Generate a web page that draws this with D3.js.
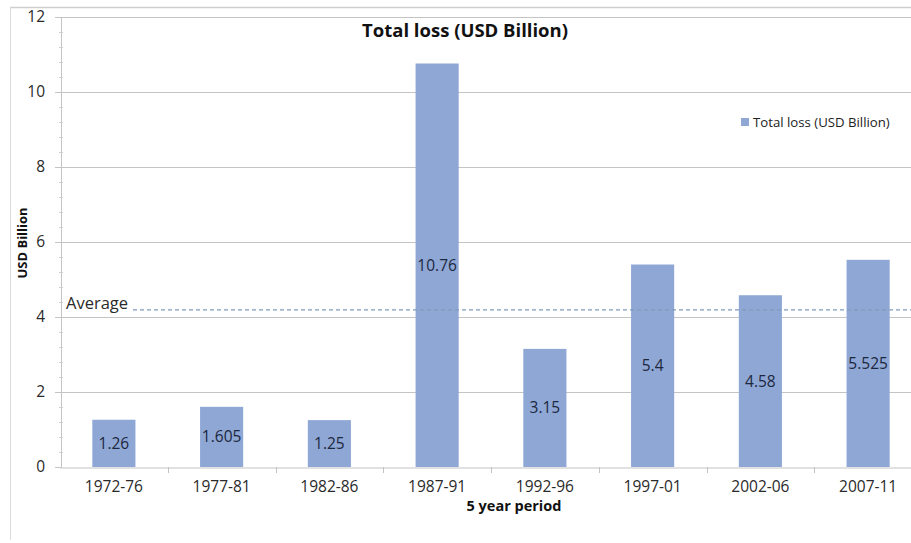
<!DOCTYPE html>
<html>
<head>
<meta charset="utf-8">
<script src="https://cdn.jsdelivr.net/npm/d3@7"></script>
<style>
  body { margin: 0; background: #fff; }
  svg text { font-family: "Open Sans", "DejaVu Sans", sans-serif; }
</style>
</head>
<body>
<svg id="chart" width="911" height="543"></svg>
<script>
// ---- data
var periods = ["1972-76", "1977-81", "1982-86", "1987-91", "1992-96", "1997-01", "2002-06", "2007-11"];
var totalLoss = [1.26, 1.605, 1.25, 10.76, 3.15, 5.4, 4.58, 5.525];
var yTicks = [0, 2, 4, 6, 8, 10, 12];
var averageLoss = 4.19;
var seriesName = "Total loss (USD Billion)";

var barColor = "#8fa7d4";
var gridColor = "#c4c4c4";

var svg = d3.select("#chart");

// outer frame (top and left edge of the original chart box)
svg.append("line").attr("x1", 10).attr("x2", 911).attr("y1", 7.5).attr("y2", 7.5)
  .attr("stroke", "#cfcfcf").attr("stroke-width", 1.5);
svg.append("line").attr("x1", 10.5).attr("x2", 10.5).attr("y1", 7).attr("y2", 540)
  .attr("stroke", "#dcdcdc").attr("stroke-width", 1);

var x = d3.scaleBand().domain(periods).range([60, 922]).paddingInner(0).paddingOuter(0);
var y = d3.scaleLinear().domain([0, 12]).range([467, 17]);

// gridlines
svg.append("g").selectAll("line").data(yTicks.filter(function(d) { return d > 0; }))
  .enter().append("line")
  .attr("x1", 61).attr("x2", 911)
  .attr("y1", function(d) { return Math.round(y(d)) + 0.5; })
  .attr("y2", function(d) { return Math.round(y(d)) + 0.5; })
  .attr("stroke", gridColor).attr("stroke-width", 1.2);

// y axis
var yAxis = d3.axisLeft(y).tickValues(yTicks).tickSize(6).tickPadding(10);
var gy = svg.append("g").attr("transform", "translate(61,0)").call(yAxis);
gy.select(".domain").attr("stroke", gridColor);
gy.selectAll(".tick line").attr("stroke", gridColor);
gy.selectAll(".tick text").attr("font-size", 15.5).attr("fill", "#2a2a2a");

// minor ticks
var minor = d3.range(0, 12.01, 0.4).filter(function(d) { return Math.abs(d / 2 - Math.round(d / 2)) > 0.01; });
svg.append("g").selectAll("line").data(minor).enter().append("line")
  .attr("x1", 59).attr("x2", 63)
  .attr("y1", function(d) { return Math.round(y(d)) + 0.5; })
  .attr("y2", function(d) { return Math.round(y(d)) + 0.5; })
  .attr("stroke", "#d0d0d0");

// x axis
var xAxis = d3.axisBottom(x).tickSize(0).tickPadding(13);
var gx = svg.append("g").attr("transform", "translate(0,467.5)").call(xAxis);
gx.select(".domain").attr("stroke", gridColor).attr("stroke-width", 1.2);
gx.selectAll(".tick text").attr("font-size", 15.5).attr("fill", "#2a2a2a");
svg.append("g").selectAll("line").data(periods.slice(1)).enter().append("line")
  .attr("x1", function(d) { return Math.round(x(d)) + 0.5; })
  .attr("x2", function(d) { return Math.round(x(d)) + 0.5; })
  .attr("y1", 467).attr("y2", 473)
  .attr("stroke", gridColor);

// bars
var barW = x.bandwidth() * 0.4;
svg.append("g").selectAll("rect").data(totalLoss).enter().append("rect")
  .attr("x", function(d, i) { return x(periods[i]) + (x.bandwidth() - barW) / 2; })
  .attr("y", function(d) { return y(d); })
  .attr("width", barW)
  .attr("height", function(d) { return y(0) - y(d); })
  .attr("fill", barColor);

// value labels, centred in bars
svg.append("g").selectAll("text").data(totalLoss).enter().append("text")
  .attr("x", function(d, i) { return x(periods[i]) + x.bandwidth() / 2; })
  .attr("y", function(d) { return (y(d) + y(0)) / 2; })
  .attr("dy", "0.35em")
  .attr("text-anchor", "middle")
  .attr("font-size", 15.5)
  .attr("fill", "#1c2740")
  .text(function(d) { return d; });

// average line
svg.append("line")
  .attr("x1", 133).attr("x2", 911)
  .attr("y1", y(averageLoss)).attr("y2", y(averageLoss))
  .attr("stroke", "#7f9cbc").attr("stroke-width", 1.3)
  .attr("stroke-dasharray", "4,3");
svg.append("text").attr("x", 66).attr("y", y(averageLoss) - 0.5)
  .attr("font-size", 16.5).attr("fill", "#2a2a2a").text("Average");

// titles
svg.append("text").attr("x", 465).attr("y", 36.5)
  .attr("text-anchor", "middle").attr("font-size", 18.5).attr("font-weight", "bold")
  .attr("fill", "#111").text(seriesName);

svg.append("text").attr("x", 514).attr("y", 511)
  .attr("text-anchor", "middle").attr("font-size", 14.5).attr("font-weight", "bold")
  .attr("fill", "#111").text("5 year period");

svg.append("text")
  .attr("transform", "translate(27,243) rotate(-90)")
  .attr("text-anchor", "middle").attr("font-size", 13).attr("font-weight", "bold")
  .attr("fill", "#111").text("USD Billion");

// legend
var legend = svg.append("g").attr("transform", "translate(741,118)");
legend.append("rect").attr("width", 8).attr("height", 8).attr("fill", barColor);
legend.append("text").attr("x", 12).attr("y", 4).attr("dy", "0.35em")
  .attr("font-size", 13.2).attr("fill", "#222").text(seriesName);
</script>
</body>
</html>
